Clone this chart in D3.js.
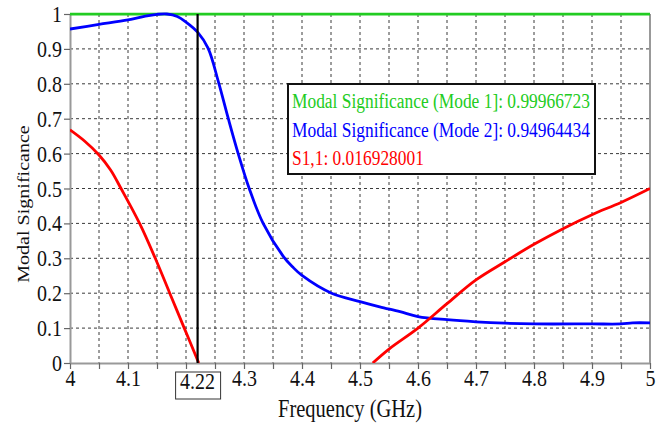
<!DOCTYPE html>
<html>
<head>
<meta charset="utf-8">
<script src="https://cdn.jsdelivr.net/npm/d3@7"></script>
<style>
  body { margin: 0; background: #fff; }
  text { font-family: "Liberation Serif", "Times New Roman", "DejaVu Serif", serif; }
</style>
</head>
<body>
<svg id="chart"></svg>
<script>
// data
var mode1Freq = [4.0, 4.5, 5.0];
var mode1Vals = [0.99966723, 0.99966723, 0.99966723];

var mode2Freq = [4.00, 4.05, 4.10, 4.13, 4.15, 4.167, 4.185, 4.20, 4.22, 4.238, 4.256, 4.273, 4.290, 4.309,
                 4.333, 4.368, 4.384, 4.40, 4.451, 4.50, 4.534, 4.569, 4.60, 4.65, 4.70, 4.75, 4.80, 4.90, 4.95, 4.97, 5.00];
var mode2Vals = [0.957, 0.970, 0.983, 0.994, 0.999, 1.0, 0.993, 0.977, 0.948, 0.902, 0.805, 0.70, 0.60, 0.50,
                 0.40, 0.305, 0.275, 0.251, 0.20, 0.176, 0.161, 0.147, 0.133, 0.124, 0.118, 0.114, 0.112, 0.112, 0.112, 0.115, 0.115];

var s11Freq = [4.00, 4.025, 4.05, 4.07, 4.088, 4.12, 4.147, 4.172, 4.197, 4.222, 4.30, 4.522, 4.55, 4.60, 4.65, 4.70, 4.75, 4.80, 4.85, 4.90, 4.95, 5.00];
var s11Vals = [0.668, 0.636, 0.596, 0.553, 0.50, 0.40, 0.30, 0.20, 0.10, 0.0, null, 0.0, 0.04, 0.10, 0.17, 0.238, 0.29, 0.34, 0.385, 0.425, 0.46, 0.50];

var markerFreq = 4.22;
var legendLines = [
  "Modal Significance (Mode 1]: 0.99966723",
  "Modal Significance (Mode 2]: 0.94964434",
  "S1,1: 0.016928001"
];
var xTicks = d3.range(0, 21).map(i => 4 + i * 0.05);
var yTicks = d3.range(0, 11).map(i => i / 10);

var W = 669, H = 426;
var pLeft = 70, pRight = 650, pTop = 14, pBottom = 363;
var squish = 1.18; // text in the picture is taller than wide

var svg = d3.select("#chart").attr("width", W).attr("height", H);

var x = d3.scaleLinear().domain([4, 5]).range([pLeft, pRight]);
var y = d3.scaleLinear().domain([0, 1]).range([pBottom, pTop]);

// grid
var grid = svg.append("g").attr("stroke", "#3a3a3a").attr("stroke-width", 1).attr("stroke-dasharray", "3,3");
grid.selectAll("line.v")
  .data(xTicks.slice(1, -1))
  .join("line")
  .attr("class", "v")
  .attr("x1", d => x(d)).attr("x2", d => x(d))
  .attr("y1", pTop).attr("y2", pBottom);
grid.selectAll("line.h")
  .data(yTicks.slice(1, -1))
  .join("line")
  .attr("class", "h")
  .attr("x1", pLeft).attr("x2", pRight)
  .attr("y1", d => y(d)).attr("y2", d => y(d));

// axes
var xAxis = svg.append("g")
  .attr("transform", `translate(0,${pBottom})`)
  .call(d3.axisBottom(x).tickValues(xTicks).tickSize(6).tickSizeOuter(0)
    .tickFormat(d => {
      var r = Math.round(d * 100);
      if (r % 10 !== 0 || r === 420) return "";
      return d3.format("")(+(r / 100).toFixed(1));
    }));
var yAxis = svg.append("g")
  .attr("transform", `translate(${pLeft},0)`)
  .call(d3.axisLeft(y).tickValues(yTicks).tickSize(6).tickSizeOuter(0)
    .tickFormat(d => d3.format("")(+d.toFixed(1))));

[xAxis, yAxis].forEach(a => {
  a.attr("font-family", null);
  a.select(".domain").attr("stroke", "#999").attr("stroke-width", 2);
  a.selectAll(".tick line").attr("stroke", "#666").attr("stroke-width", 1.2);
  a.selectAll("text").attr("font-size", 20).attr("fill", "#111");
});
xAxis.selectAll("text").attr("dy", null)
  .attr("transform", `scale(1,${squish})`)
  .attr("y", 23 / squish);
yAxis.selectAll("text").attr("x", -8)
  .attr("transform", `scale(1,${squish})`);

// right border
svg.append("line")
  .attr("x1", pRight).attr("x2", pRight).attr("y1", pTop).attr("y2", pBottom)
  .attr("stroke", "#999").attr("stroke-width", 2);

// curves
svg.append("clipPath").attr("id", "plot")
  .append("rect").attr("x", pLeft).attr("y", pTop - 3)
  .attr("width", pRight - pLeft).attr("height", pBottom - pTop + 3);

var line = d3.line()
  .defined(d => d[1] !== null)
  .curve(d3.curveCatmullRom.alpha(0.5))
  .x(d => x(d[0]))
  .y(d => y(d[1]));

var series = [
  { f: mode1Freq, v: mode1Vals, color: "#22cc22" },
  { f: mode2Freq, v: mode2Vals, color: "#0000ff" },
  { f: s11Freq, v: s11Vals, color: "#ff0000" }
];
svg.append("g").attr("clip-path", "url(#plot)")
  .selectAll("path")
  .data(series)
  .join("path")
  .attr("fill", "none")
  .attr("stroke", d => d.color)
  .attr("stroke-width", 2.8)
  .attr("stroke-linejoin", "round")
  .attr("d", d => line(d.f.map((f, i) => [f, d.v[i]])));

// marker
svg.append("line")
  .attr("x1", x(markerFreq)).attr("x2", x(markerFreq))
  .attr("y1", pTop).attr("y2", pBottom)
  .attr("stroke", "#000").attr("stroke-width", 2.2);

svg.append("rect")
  .attr("x", x(markerFreq) - 22).attr("y", 372)
  .attr("width", 45).attr("height", 27)
  .attr("fill", "#fff").attr("stroke", "#333").attr("stroke-width", 1);
svg.append("text")
  .attr("transform", `translate(${x(markerFreq)},389) scale(1,${squish})`)
  .attr("text-anchor", "middle")
  .attr("font-size", 20).attr("fill", "#111")
  .text(markerFreq.toFixed(2));

// legend box
var lg = svg.append("g");
lg.append("rect")
  .attr("x", 288).attr("y", 84).attr("width", 307).attr("height", 90)
  .attr("fill", "#fff").attr("stroke", "#111").attr("stroke-width", 2);
lg.selectAll("text")
  .data(legendLines)
  .join("text")
  .attr("transform", (d, i) => `translate(292,${108 + i * 28.5}) scale(1,${squish})`)
  .attr("font-size", 17.4)
  .attr("fill", (d, i) => series[i].color)
  .text(d => d);

// axis titles
svg.append("text")
  .attr("transform", `translate(350,417) scale(1,${squish})`)
  .attr("text-anchor", "middle")
  .attr("font-size", 20.5).attr("fill", "#111")
  .text("Frequency (GHz)");
svg.append("text")
  .attr("transform", `translate(29,204) rotate(-90) scale(${squish},1)`)
  .attr("text-anchor", "middle")
  .attr("font-size", 17).attr("fill", "#111")
  .text("Modal Significance");
</script>
</body>
</html>
